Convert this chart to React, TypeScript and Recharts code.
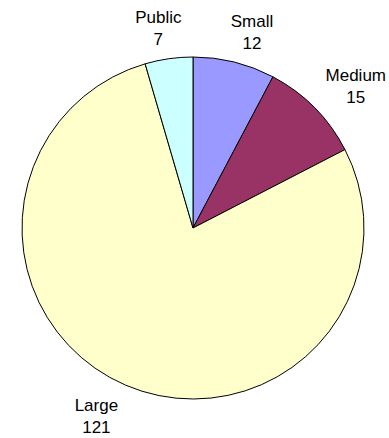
import { Cell, Pie, PieChart } from 'recharts';

const categories = ['Small', 'Medium', 'Large', 'Public'];
const counts = [12, 15, 121, 7];
const sliceColors = ['#9999FF', '#993366', '#FFFFCC', '#CCFFFF'];

const WIDTH = 389;
const HEIGHT = 438;
const RADIUS = 171;
const FONT = '17px "Liberation Sans", Arial, sans-serif';
const LINE_GAP = 22;

const data = categories.map((name, i) => ({ name, value: counts[i] }));

let measureCtx: CanvasRenderingContext2D | null = null;
function textWidth(text: string) {
  if (!measureCtx) {
    measureCtx = document.createElement('canvas').getContext('2d');
  }
  if (!measureCtx) return text.length * 9;
  measureCtx.font = FONT;
  return measureCtx.measureText(text).width;
}

type SliceLabelProps = {
  cx?: number;
  cy?: number;
  midAngle?: number;
  outerRadius?: number;
  name?: string;
  value?: number;
};

// Two-line "name / value" label, placed on an ellipse around the pie and
// kept inside the chart box.
function SliceLabel({ cx = 0, cy = 0, midAngle = 0, outerRadius = 0, name, value }: SliceLabelProps) {
  const rad = (midAngle * Math.PI) / 180;
  const rx = outerRadius + 74;
  const ry = outerRadius + 32;
  const half = Math.max(textWidth(String(name)), textWidth(String(value))) / 2;
  let x = cx + rx * Math.cos(rad);
  x = Math.min(Math.max(x, half + 3), WIDTH - half - 3);
  const y = cy - ry * Math.sin(rad) - 4;

  return (
    <text x={x} y={y} textAnchor="middle" fill="#000" style={{ font: FONT }}>
      <tspan x={x} y={y}>
        {name}
      </tspan>
      <tspan x={x} y={y + LINE_GAP}>
        {value}
      </tspan>
    </text>
  );
}

export default function App() {
  return (
    <div style={{ position: 'absolute', left: 0, top: 0, background: '#fff' }}>
      <PieChart width={WIDTH} height={HEIGHT} margin={{ top: 0, right: 0, bottom: 0, left: 0 }}>
        <Pie
          data={data}
          dataKey="value"
          nameKey="name"
          cx={193}
          cy={228}
          outerRadius={RADIUS}
          startAngle={90}
          endAngle={-270}
          stroke="#000"
          strokeWidth={1}
          label={SliceLabel}
          labelLine={false}
          isAnimationActive={false}
        >
          {data.map((d, i) => (
            <Cell key={d.name} fill={sliceColors[i]} />
          ))}
        </Pie>
      </PieChart>
    </div>
  );
}
